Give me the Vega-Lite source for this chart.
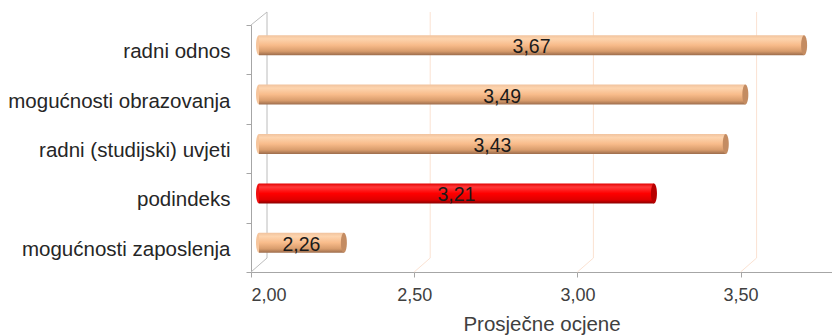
{
  "$schema": "https://vega.github.io/schema/vega-lite/v6.json",
  "autosize": {"type": "none"},
  "padding": {"left": 251, "top": 25, "right": 0, "bottom": 64},
  "width": 581,
  "height": 247,
  "background": "white",
  "config": {
    "font": "Liberation Sans",
    "view": {"stroke": null},
    "locale": {"number": {"decimal": ",", "thousands": ".", "grouping": [3], "currency": ["", " €"]}}
  },
  "data": {"values": [
    {"k": "radni odnos", "v": 3.67, "g": "o"},
    {"k": "mogućnosti obrazovanja", "v": 3.49, "g": "o"},
    {"k": "radni (studijski) uvjeti", "v": 3.43, "g": "o"},
    {"k": "podindeks", "v": 3.21, "g": "r"},
    {"k": "mogućnosti zaposlenja", "v": 2.26, "g": "o"}
  ]},
  "encoding": {
    "y": {
      "field": "k", "type": "nominal",
      "sort": ["radni odnos", "mogućnosti obrazovanja", "radni (studijski) uvjeti", "podindeks", "mogućnosti zaposlenja"],
      "scale": {"paddingInner": 0, "paddingOuter": 0},
      "axis": {
        "title": null, "tickBand": "extent", "labelFontSize": 20.5, "labelColor": "#262626", "labelLimit": 0,
        "labelPadding": 16, "labelOffset": 2, "domainColor": "#a6a6a6", "tickColor": "#a6a6a6", "tickSize": 5
      }
    }
  },
  "resolve": {"scale": {"x": "independent"}},
  "layer": [
    {
      "layer": [
        {
          "data": {"values": [{"gv": 2.0}, {"gv": 2.5}, {"gv": 3.0}, {"gv": 3.5}]},
          "mark": {"type": "rule", "xOffset": 16, "yOffset": -13, "y2Offset": -14, "strokeWidth": 1},
          "encoding": {
            "x": {"field": "gv", "type": "quantitative", "scale": {"domain": [2, 3.78], "zero": false, "nice": false},
              "axis": {
                "values": [2, 2.5, 3, 3.5], "format": ".2f", "grid": false,
                "labelFontSize": 18, "labelColor": "#404040", "labelPadding": 9,
                "domainColor": "#a6a6a6", "tickColor": "#a6a6a6", "tickSize": 5,
                "title": "Prosječne ocjene", "titleFontSize": 20.5, "titleFontWeight": "normal",
                "titleColor": "#404040", "titlePadding": 10
              }
            },
            "y": {"value": 0},
            "y2": {"value": "height"},
            "color": {"condition": {"test": "datum.gv == 2", "value": "#bcbcbc"}, "value": "#fbe2d2"}
          }
        },
        {
          "data": {"values": [{"gv": 2.0}, {"gv": 2.5}, {"gv": 3.0}, {"gv": 3.5}]},
          "mark": {"type": "rule", "x2Offset": 16, "y2Offset": -14, "strokeWidth": 1},
          "encoding": {
            "x": {"field": "gv", "type": "quantitative"},
            "x2": {"field": "gv"},
            "y": {"value": "height"},
            "y2": {"value": "height"},
            "color": {"condition": {"test": "datum.gv == 2", "value": "#bcbcbc"}, "value": "#fbe2d2"}
          }
        },
        {
          "data": {"values": [{"gv": 2.0}]},
          "mark": {"type": "rule", "x2Offset": 16, "y2Offset": -13, "strokeWidth": 1, "color": "#bcbcbc"},
          "encoding": {
            "x": {"field": "gv", "type": "quantitative"},
            "x2": {"field": "gv"},
            "y": {"value": 0},
            "y2": {"value": 0}
          }
        },
        {
          "transform": [{"filter": "datum.g == 'o'"}],
          "mark": {
            "type": "bar", "height": 20, "xOffset": 8, "x2Offset": 8, "yOffset": -4.5,
            "color": {"gradient": "linear", "x1": 0, "y1": 0, "x2": 0, "y2": 1, "stops": [
              {"offset": 0, "color": "#f1c39e"},
              {"offset": 0.18, "color": "#fdd4ae"},
              {"offset": 0.5, "color": "#f8bb8a"},
              {"offset": 0.8, "color": "#d89c6c"},
              {"offset": 1, "color": "#9c6c4c"}
            ]}
          },
          "encoding": {
            "x": {"field": "v", "type": "quantitative"},
            "x2": {"datum": 2}
          }
        },
        {
          "transform": [{"filter": "datum.g == 'r'"}],
          "mark": {
            "type": "bar", "height": 20, "xOffset": 8, "x2Offset": 8, "yOffset": -4.5,
            "color": {"gradient": "linear", "x1": 0, "y1": 0, "x2": 0, "y2": 1, "stops": [
              {"offset": 0, "color": "#e00000"},
              {"offset": 0.18, "color": "#ff3a3a"},
              {"offset": 0.5, "color": "#ff0000"},
              {"offset": 0.82, "color": "#e00000"},
              {"offset": 1, "color": "#8a0000"}
            ]}
          },
          "encoding": {
            "x": {"field": "v", "type": "quantitative"},
            "x2": {"datum": 2}
          }
        },
        {
          "mark": {"type": "point", "filled": true, "opacity": 1, "size": 400, "xOffset": 8, "yOffset": -4.5,
            "shape": "M0,-1 A0.3,1 0 1,1 0,1 A0.3,1 0 1,1 0,-1 Z"},
          "encoding": {
            "x": {"field": "v", "type": "quantitative"},
            "color": {"condition": {"test": "datum.g == 'r'", "value": "#b80000"}, "value": "#c48c62"}
          }
        },
        {
          "mark": {"type": "point", "filled": true, "opacity": 1, "size": 400, "xOffset": 8, "yOffset": -4.5,
            "shape": "M0,-1 A0.3,1 0 1,0 0,1 Z"},
          "encoding": {
            "x": {"datum": 2, "type": "quantitative"},
            "color": {"condition": {"test": "datum.g == 'r'", "value": "#f01010"}, "value": "#f6c59c"}
          }
        }
      ]
    },
    {
      "mark": {"type": "text", "fontSize": 19.5, "color": "#1a1a1a", "xOffset": 8, "yOffset": -2.5, "baseline": "middle", "align": "center"},
      "encoding": {
        "x": {"field": "v", "type": "quantitative", "scale": {"domain": [2, 5.56], "zero": false, "nice": false}, "axis": null},
        "text": {"field": "v", "type": "quantitative", "format": ".2f"}
      }
    }
  ]
}
